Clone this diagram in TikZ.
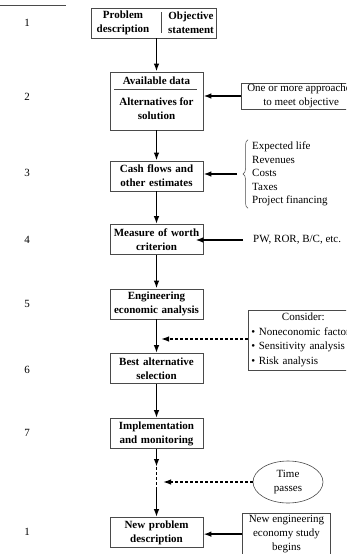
\documentclass[tikz,border=0pt]{standalone}
\usepackage{fontspec}
\setmainfont{Liberation Serif}
\usetikzlibrary{arrows.meta,positioning,calc,shapes.geometric,decorations.pathreplacing}
\definecolor{frame}{HTML}{4A4A4A}
\newcommand{\diagfont}{\fontsize{11}{14}\selectfont}
\tikzset{box/.style={draw=frame,line width=0.6pt}, stage/.style={box,align=center,font=\diagfont\bfseries,text width=89pt,minimum height=30pt,inner sep=2pt}, heading/.style={align=center,font=\diagfont\bfseries,inner sep=1pt}, note/.style={align=center,font=\diagfont,inner sep=2pt}, stepno/.style={font=\diagfont}, flow/.style={-{Latex[length=8pt,width=5.5pt]},line width=1.6pt}, cue/.style={-{Latex[length=8pt,width=5.5pt]},line width=1.4pt,dash pattern=on 3pt off 2pt}, curly/.style={draw=frame,line width=0.5pt,decorate,decoration={brace,amplitude=5pt}}}

\begin{document}
\begin{tikzpicture}[x=1pt,y=-1pt]
\useasboundingbox (0,0) rectangle (346,554);
\clip (0,0) rectangle (346,554);
\draw[frame,line width=0.5pt] (0,5) -- (66,5);
\node[box,minimum width=125pt,minimum height=30pt] (b1) at (153.5,23) {};
\node[heading] (b1l) at (123,23) {Problem\\description};
\node[heading] (b1r) at (191,23) {Objective\\statement};
\draw[box] (161,12) -- (161,33);
\node[stage,minimum height=58pt] (b2) at (156.5,101) {};
\node[heading] (b2a) at (156.5,81) {Available data};
\draw[box] (114,89) -- (197,89);
\node[heading] (b2b) at (156.5,109) {Alternatives for\\solution};
\node[stage] (b3) at (156.5,176) {Cash flows and\\other estimates};
\node[stage] (b4) at (156.5,239.5) {Measure of worth\\criterion};
\node[stage] (b5) at (156.5,304) {Engineering\\economic analysis};
\node[stage] (b6) at (156.5,368.5) {Best alternative\\selection};
\node[stage] (b7) at (156.5,433.5) {Implementation\\and monitoring};
\node[stage] (b8) at (156.5,532.5) {New problem\\description};
\node[stepno] (n1) at (27,23) {1};
\node[stepno] (n2) at (27,97) {2};
\node[stepno] (n3) at (27,173) {3};
\node[stepno] (n4) at (27,240) {4};
\node[stepno] (n5) at (27,304) {5};
\node[stepno] (n6) at (27,370) {6};
\node[stepno] (n7) at (27,433) {7};
\node[stepno] (n8) at (27,532) {1};
\node[box,note,anchor=west,inner xsep=6pt,inner ysep=1pt] (appr) at (241,96) {One or more approaches\\to meet objective};
\node[note,anchor=west,align=left,font=\fontsize{11}{13.5}\selectfont] (est) at (250,174) {Expected life\\Revenues\\Costs\\Taxes\\Project financing};
\node[note,anchor=west] (pw) at (251,240) {PW, ROR, B/C, etc.};
\node[box,anchor=north west,align=left,font=\fontsize{11}{14.5}\selectfont,text width=104pt,inner sep=3pt] (cons) at (248,310) {\makebox[104pt]{Consider:}\\\textbullet{} Noneconomic factors\\\textbullet{} Sensitivity analysis\\\textbullet{} Risk analysis};
\node[box,ellipse,note,minimum width=70pt,minimum height=42pt,inner sep=0pt] (time) at (288,482) {Time\\passes};
\node[box,note,anchor=north,inner xsep=6pt,inner ysep=2pt] (news) at (286.5,513) {New engineering\\economy study\\begins};
\coordinate (bt) at ([xshift=-13pt]est.west);
\coordinate (j1) at (161,339);
\coordinate (j2) at (163,482);
\coordinate (g1) at (156.5,467);
\coordinate (g2) at (156.5,490);
\draw[flow] (b1.south -| b2.north) -- (b2.north);
\draw[flow] (b2) -- (b3);
\draw[flow] (b3) -- (b4);
\draw[flow] (b4) -- (b5);
\draw[flow] (b5) -- (b6);
\draw[flow] (b6) -- (b7);
\draw[flow] (b7) -- (g1);
\draw[line width=1.4pt,dash pattern=on 3pt off 2pt] (g1) -- (g2);
\draw[flow] (g2) -- (b8);
\draw[flow] (appr.west) -- (appr.west -| b2.east);
\draw[curly] ([xshift=-2pt]est.south west) -- ([xshift=-2pt]est.north west);
\draw[flow] (bt) -- (bt -| b3.east);
\draw[flow] ([xshift=-8pt]pw.west) -- ([xshift=-8pt]pw.west -| b4.east);
\draw[cue] (j1 -| cons.west) -- (j1);
\draw[cue] (time.west) -- (j2);
\draw[flow] (news.west) -- (news.west -| b8.east);
\end{tikzpicture}
\end{document}
